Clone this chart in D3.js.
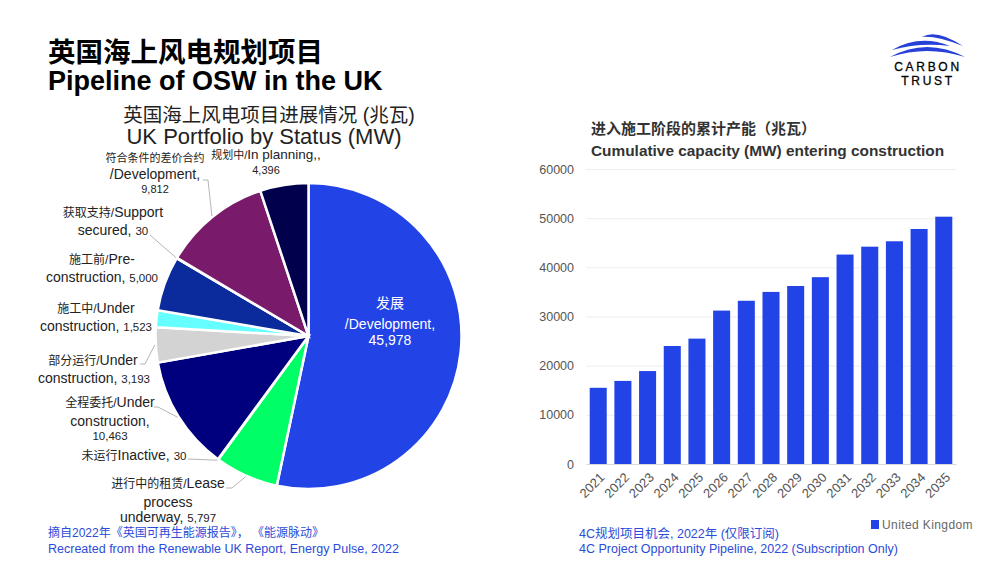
<!DOCTYPE html>
<html><head><meta charset="utf-8">
<script src="https://cdn.jsdelivr.net/npm/d3@7"></script>
<style>
html,body{margin:0;padding:0;background:#fff}
text{font-family:"Liberation Sans","Noto Sans CJK SC",sans-serif}
</style></head><body>
<svg id="c" width="1000" height="563" style="display:block"></svg>
<script>
const statusNames=["发展/Development","进行中的租赁/Lease process underway","未运行Inactive","全程委托/Under construction","部分运行/Under construction","施工中/Under construction","施工前/Pre-construction","获取支持/Support secured","符合条件的差价合约/Development","规划中/In planning"];
const statusValues=[45978,5797,30,10463,3193,1523,5000,30,9812,4396];
const statusColors=["#2243e6","#00ff66","#cccccc","#00007f","#d3d3d3","#66ffff","#0b2a9c","#cccccc","#7a1a6b","#00004d"];
const years=["2021","2022","2023","2024","2025","2026","2027","2028","2029","2030","2031","2032","2033","2034","2035"];
const capacity=[15500,16900,18900,24000,25500,31200,33200,35000,36200,38000,42600,44200,45300,47800,50300];
const yTicks=[0,10000,20000,30000,40000,50000,60000];

const svg=d3.select("#c");
function line(x,y,t,o={}){
  const e=svg.append("text").attr("x",x).attr("y",y).attr("text-anchor",o.a||"start")
    .attr("fill",o.c||"#222").attr("font-size",o.s||13).attr("font-weight",o.w||400).text(t);
  if(o.ls)e.attr("letter-spacing",o.ls);
  return e;
}
function mixed(x,y,parts,fill="#222"){
  const e=svg.append("text").attr("x",x).attr("y",y).attr("text-anchor","middle").attr("fill",fill);
  parts.forEach(p=>e.append("tspan").attr("font-size",p[1]).text(p[0]));
}
// headings
line(48,62,"英国海上风电规划项目",{s:27.5,w:700,c:"#000"});
line(48,90,"Pipeline of OSW in the UK",{s:27,w:700,c:"#000"});
line(269,122,"英国海上风电项目进展情况 (兆瓦)",{s:19.5,a:"middle"});
line(264,144,"UK Portfolio by Status (MW)",{s:22,a:"middle"});

// pie
const R=153,cx=308.5,cy=336;
const pie=d3.pie().sort(null).value(d=>d);
const arcs=pie(statusValues);
const arc=d3.arc().innerRadius(0).outerRadius(R);
svg.append("g").attr("transform",`translate(${cx},${cy})`).selectAll("path").data(arcs).join("path")
  .attr("d",arc).attr("fill",(d,i)=>statusColors[i]).attr("stroke","#fff").attr("stroke-width",2.5);

// pie labels
const L=14,Z=12,N=11.5;
mixed(155,162,[["符合条件的差价合约",11]]);
mixed(155,179,[["/Development,",L]]);
mixed(155,193,[["9,812",11]]);
mixed(266,159,[["规划中/",11],["In planning,,",13.5]]);
mixed(266,174,[["4,396",11]]);
mixed(113,217,[["获取支持/",Z],["Support",L]]);
mixed(113,235,[["secured, ",L],["30",N]]);
mixed(102,264,[["施工前/",Z],["Pre-",L]]);
mixed(102,282,[["construction, ",L],["5,000",N]]);
mixed(96,313,[["施工中/",Z],["Under",L]]);
mixed(96,331,[["construction, ",L],["1,523",N]]);
mixed(93,365,[["部分运行/",Z],["Under",L]]);
mixed(94,383,[["construction, ",L],["3,193",N]]);
mixed(110,407,[["全程委托/",Z],["Under",L]]);
mixed(110,426,[["construction,",L]]);
mixed(110,440,[["10,463",N]]);
mixed(134,460,[["未运行",Z],["Inactive,  ",L],["30",N]]);
mixed(168,488,[["进行中的租赁/",Z],["Lease",L]]);
mixed(168,507,[["process",L]]);
mixed(168,522,[["underway, ",L],["5,797",N]]);
mixed(390,308,[["发展",14]],"#fff");
mixed(390,329,[["/Development,",L]],"#fff");
mixed(390,345,[["45,978",L]],"#fff");

// leader lines: inner end computed from the slice's arc
function pointOn(i){const a=(arcs[i].startAngle+arcs[i].endAngle)/2;return [cx+Math.sin(a)*(R+1),cy-Math.cos(a)*(R+1)];}
const leaderLayout=[[8,[[208,180],[203,180]]],[7,[[150,235],[150,235]]],[4,[[145,364],[140,364]]],[3,[[158,407],[154,407]]],[2,[[188,459],[188,459]]],[1,[[232,488],[226,488]]]];
const leaderGen=d3.line();
leaderLayout.forEach(([i,p])=>{
  svg.append("path").attr("d",leaderGen([pointOn(i),...p])).attr("fill","none").attr("stroke","#b5b5b5").attr("stroke-width",1);
});

// footers
line(48,537,"摘自2022年《英国可再生能源报告》， 《能源脉动》",{s:12,c:"#2c4bd8"});
line(48,553,"Recreated from the Renewable UK Report, Energy Pulse, 2022",{s:12.5,c:"#2c4bd8"});
line(579,538,"4C规划项目机会, 2022年 (仅限订阅)",{s:12.5,c:"#2c4bd8"});
line(579,553,"4C Project Opportunity Pipeline, 2022 (Subscription Only)",{s:12.5,c:"#2c4bd8"});

// bars
line(591,134,"进入施工阶段的累计产能（兆瓦）",{s:15,w:700,c:"#333"});
line(591,156,"Cumulative capacity (MW) entering construction",{s:15.4,w:700,c:"#333"});
const x=d3.scaleBand().domain(years).range([586,956]).paddingInner(0.31).paddingOuter(0.15);
const y=d3.scaleLinear().domain([0,60000]).range([464,169]);
const gy=svg.append("g").attr("transform","translate(586,0)").call(d3.axisLeft(y).tickValues(yTicks).tickFormat(d3.format("d")).tickSize(-370).tickPadding(12));
gy.select(".domain").remove();
gy.selectAll("line").attr("stroke","#eeeeee");
gy.selectAll("text").attr("font-size",12.5).attr("fill","#555");
svg.append("g").selectAll("rect").data(capacity).join("rect")
  .attr("x",(d,i)=>x(years[i])).attr("width",x.bandwidth()).attr("y",d=>y(d)).attr("height",d=>y(0)-y(d)).attr("fill","#2243e6");
const gx=svg.append("g").attr("transform","translate(0,464)").call(d3.axisBottom(x).tickSize(0));
gx.select(".domain").attr("stroke","#d9d9d9");
gx.selectAll("text").attr("font-size",13).attr("fill","#555").attr("text-anchor","end")
  .attr("transform","translate(4,11) rotate(-45)").attr("y",0).attr("dy","0.35em");
svg.append("rect").attr("x",871).attr("y",520).attr("width",8).attr("height",9).attr("fill","#2243e6");
line(882,529,"United Kingdom",{s:12,c:"#666",ls:0.4});

// logo
const swoosh=(x0,y0,xm,ym,x1,y1,t)=>{const p=d3.path();p.moveTo(x0,y0);p.quadraticCurveTo(xm,ym-t,x1,y1);p.quadraticCurveTo(xm,ym+t,x0,y0);return p.toString();};
[[890,57,927,41,965,57,4],[892,50,920,38,950,46,4],[922,37,936,32,963,46,3.5]].forEach(s=>
  svg.append("path").attr("d",swoosh(...s)).attr("fill","#2740d8"));
line(928,71,"CARBON",{s:12,a:"middle",c:"#000",ls:2.7}).attr("stroke","#000").attr("stroke-width",0.3);
line(928,85,"TRUST",{s:12,a:"middle",c:"#000",ls:2.7}).attr("stroke","#000").attr("stroke-width",0.3);
</script>
</body></html>
